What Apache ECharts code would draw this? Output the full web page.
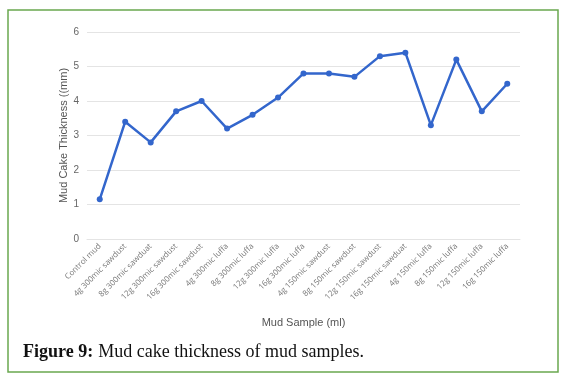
<!doctype html>
<html>
<head>
	<meta charset="utf-8">
	<script type="text/javascript" src="https://cdn.jsdelivr.net/npm/echarts@6/dist/echarts.min.js"></script>
	<style>
		html, body { margin: 0; padding: 0; background: #fff; }
		#chart { width: 563px; height: 377px; }
	</style>
</head>
<body>
<div id="chart"></div>
<script>
	// 样品名称
	var samples = ['Control mud', '4g 300mic sawdust', '8g 300mic sawduat', '12g 300mic sawdust',
		'16g 300mic sawdust', '4g 300mic luffa', '8g 300mic luffa', '12g 300mic luffa',
		'16g 300mic luffa', '4g 150mic sawdust', '8g 150mic sawdust', '12g 150mic sawdust',
		'16g 150mic sawduat', '4g 150mic luffa', '8g 150mic luffa', '12g 150mic luffa',
		'16g 150mic luffa'];
	// 泥饼厚度 (mm)
	var thickness = [1.15, 3.4, 2.8, 3.7, 4.0, 3.2, 3.6, 4.1, 4.8, 4.8, 4.7, 5.3, 5.4, 3.3, 5.2, 3.7, 4.5];
	var yTicks = [0, 1, 2, 3, 4, 5, 6];

	var myChart = echarts.init(document.getElementById('chart'));
	var option = {
		backgroundColor: '#fff',
		animation: false,
		title: {
			left: 18,
			top: 338,
			text: '{b|Figure 9:} {n|Mud cake thickness of mud samples.}',
			textStyle: {
				fontWeight: 'normal',
				rich: {
					b: { fontFamily: 'Liberation Serif', fontWeight: 'bold', fontSize: 18, color: '#111' },
					n: { fontFamily: 'Liberation Serif', fontWeight: 'normal', fontSize: 18, color: '#111' }
				}
			}
		},
		graphic: [{
			type: 'rect',
			shape: { x: 8, y: 10, width: 550, height: 362 },
			style: { fill: 'none', stroke: '#6aa84f', lineWidth: 1.5 },
			silent: true
		}],
		grid: {
			left: 87,
			right: 43,
			top: 32,
			bottom: 138
		},
		xAxis: {
			type: 'category',
			data: samples,
			name: 'Mud Sample (ml)',
			nameLocation: 'middle',
			nameGap: 78,
			nameMoveOverlap: false,
			nameTextStyle: { color: '#555', fontSize: 11, fontFamily: 'Liberation Sans' },
			axisLine: { show: true, lineStyle: { color: '#e4e4e4' } },
			axisTick: { show: false },
			axisLabel: {
				interval: 0,
				rotate: 45,
				fontSize: 8,
				color: '#777',
				fontFamily: 'Open Sans',
				margin: 6
			}
		},
		yAxis: {
			type: 'value',
			min: yTicks[0],
			max: yTicks[yTicks.length - 1],
			interval: 1,
			name: 'Mud Cake Thickness ((mm)',
			nameLocation: 'middle',
			nameGap: 18,
			nameMoveOverlap: false,
			nameTextStyle: { color: '#555', fontSize: 11, fontFamily: 'Liberation Sans' },
			axisLine: { show: false },
			axisTick: { show: false },
			axisLabel: { color: '#666', fontSize: 10, fontFamily: 'Liberation Sans', margin: 8 },
			splitLine: { lineStyle: { color: '#e4e4e4', width: 1 } }
		},
		series: [{
			type: 'line',
			data: thickness,
			symbol: 'circle',
			symbolSize: 6,
			lineStyle: { color: '#3366cc', width: 2.5 },
			itemStyle: { color: '#3366cc' }
		}]
	};
	myChart.setOption(option);
</script>
</body>
</html>
